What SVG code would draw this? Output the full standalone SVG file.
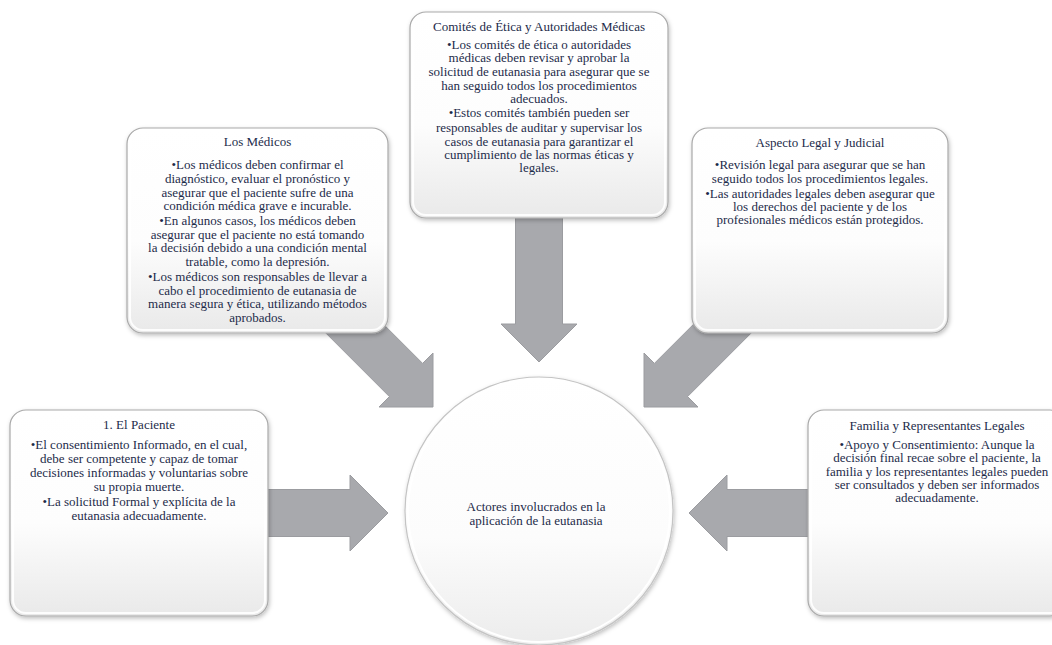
<svg xmlns="http://www.w3.org/2000/svg" width="1052" height="645" viewBox="0 0 1052 645">
<defs>
<linearGradient id="boxg" x1="0" y1="0" x2="0" y2="1">
<stop offset="0" stop-color="#ffffff"/>
<stop offset="0.55" stop-color="#fdfdfd"/>
<stop offset="1" stop-color="#e9e9e9"/>
</linearGradient>
<linearGradient id="circg" x1="0" y1="0" x2="0" y2="1">
<stop offset="0" stop-color="#ffffff"/>
<stop offset="0.6" stop-color="#fcfcfc"/>
<stop offset="1" stop-color="#ececec"/>
</linearGradient>
<filter id="sh" x="-10%" y="-10%" width="120%" height="125%">
<feDropShadow dx="1" dy="2" stdDeviation="2" flood-color="#000" flood-opacity="0.25"/>
</filter>
</defs>
<style>
.box{fill:url(#boxg);stroke:#a9a9a9;stroke-width:1.2;filter:url(#sh)}
.bev{fill:none;stroke:#ffffff;stroke-width:2;opacity:0.9}
.arr{fill:#a8a9ad;stroke:#9b9ca0;stroke-width:1}
text{font-size:13px;fill:#1d2b4a;text-anchor:middle}
</style>
<rect width="1052" height="645" fill="#ffffff"/>
<g id="connectors">
<polygon class="arr" points="515.5,205 562.5,205 562.5,324 577,324 539,362 501,324 515.5,324"/>
<polygon class="arr" points="255,489.5 350,489.5 350,475 388,513 350,551 350,536.5 255,536.5"/>
<polygon class="arr" points="815,489.5 727,489.5 727,475 689,513 727,551 727,536.5 815,536.5"/>
<polygon class="arr" points="346.6,287.4 422.6,363.4 433,353 433,407 379,407 389.4,396.6 313.4,320.6"/>
<polygon class="arr" points="733.4,284.4 654.4,363.4 644,353 644,407 698,407 687.6,396.6 766.6,317.6"/>
</g>
<g font-family="'Liberation Serif', 'Times New Roman', 'DejaVu Serif', serif">
<g id="center">
<circle cx="539" cy="511" r="134" fill="url(#circg)" stroke="#c4c4c4" stroke-width="1.2" filter="url(#sh)"/>
<circle cx="539" cy="511" r="131" fill="none" stroke="#ffffff" stroke-width="2"/>
<text x="536" y="511">Actores involucrados en la</text>
<text x="536" y="525">aplicación de la eutanasia</text>
</g>
<g id="paciente">
<rect class="box" x="10" y="410" width="258" height="206" rx="16"/>
<rect class="bev" x="13" y="413" width="252" height="200" rx="13"/>
<text x="139" y="429">1. El Paciente</text>
<text x="139" y="449">•El consentimiento Informado, en el cual,</text>
<text x="139" y="463">debe ser competente y capaz de tomar</text>
<text x="139" y="477">decisiones informadas y voluntarias sobre</text>
<text x="139" y="491">su propia muerte.</text>
<text x="139" y="506">•La solicitud Formal y explícita de la</text>
<text x="139" y="520">eutanasia adecuadamente.</text>
</g>
<g id="medicos">
<rect class="box" x="127" y="128" width="261" height="205" rx="16"/>
<rect class="bev" x="130" y="131" width="255" height="199" rx="13"/>
<text x="257.5" y="146">Los Médicos</text>
<text x="257.5" y="169">•Los médicos deben confirmar el</text>
<text x="257.5" y="183">diagnóstico, evaluar el pronóstico y</text>
<text x="257.5" y="197">asegurar que el paciente sufre de una</text>
<text x="257.5" y="210">condición médica grave e incurable.</text>
<text x="257.5" y="225">•En algunos casos, los médicos deben</text>
<text x="257.5" y="239">asegurar que el paciente no está tomando</text>
<text x="257.5" y="252">la decisión debido a una condición mental</text>
<text x="257.5" y="266">tratable, como la depresión.</text>
<text x="257.5" y="281">•Los médicos son responsables de llevar a</text>
<text x="257.5" y="295">cabo el procedimiento de eutanasia de</text>
<text x="257.5" y="308">manera segura y ética, utilizando métodos</text>
<text x="257.5" y="322">aprobados.</text>
</g>
<g id="comites">
<rect class="box" x="410" y="12" width="258" height="206" rx="16"/>
<rect class="bev" x="413" y="15" width="252" height="200" rx="13"/>
<text x="539" y="31">Comités de Ética y Autoridades Médicas</text>
<text x="539" y="49">•Los comités de ética o autoridades</text>
<text x="539" y="62">médicas deben revisar y aprobar la</text>
<text x="539" y="76">solicitud de eutanasia para asegurar que se</text>
<text x="539" y="90">han seguido todos los procedimientos</text>
<text x="539" y="103">adecuados.</text>
<text x="539" y="117">•Estos comités también pueden ser</text>
<text x="539" y="132">responsables de auditar y supervisar los</text>
<text x="539" y="146">casos de eutanasia para garantizar el</text>
<text x="539" y="159">cumplimiento de las normas éticas y</text>
<text x="539" y="172">legales.</text>
</g>
<g id="legal">
<rect class="box" x="692" y="128" width="256" height="205" rx="16"/>
<rect class="bev" x="695" y="131" width="250" height="199" rx="13"/>
<text x="820" y="147">Aspecto Legal y Judicial</text>
<text x="820" y="169">•Revisión legal para asegurar que se han</text>
<text x="820" y="183">seguido todos los procedimientos legales.</text>
<text x="820" y="198">•Las autoridades legales deben asegurar que</text>
<text x="820" y="211">los derechos del paciente y de los</text>
<text x="820" y="224">profesionales médicos están protegidos.</text>
</g>
<g id="familia">
<rect class="box" x="808" y="410" width="258" height="206" rx="16"/>
<rect class="bev" x="811" y="413" width="252" height="200" rx="13"/>
<text x="937" y="430">Familia y Representantes Legales</text>
<text x="937" y="449">•Apoyo y Consentimiento: Aunque la</text>
<text x="937" y="462">decisión final recae sobre el paciente, la</text>
<text x="937" y="476">familia y los representantes legales pueden</text>
<text x="937" y="489">ser consultados y deben ser informados</text>
<text x="937" y="502">adecuadamente.</text>
</g>
</g>
</svg>
